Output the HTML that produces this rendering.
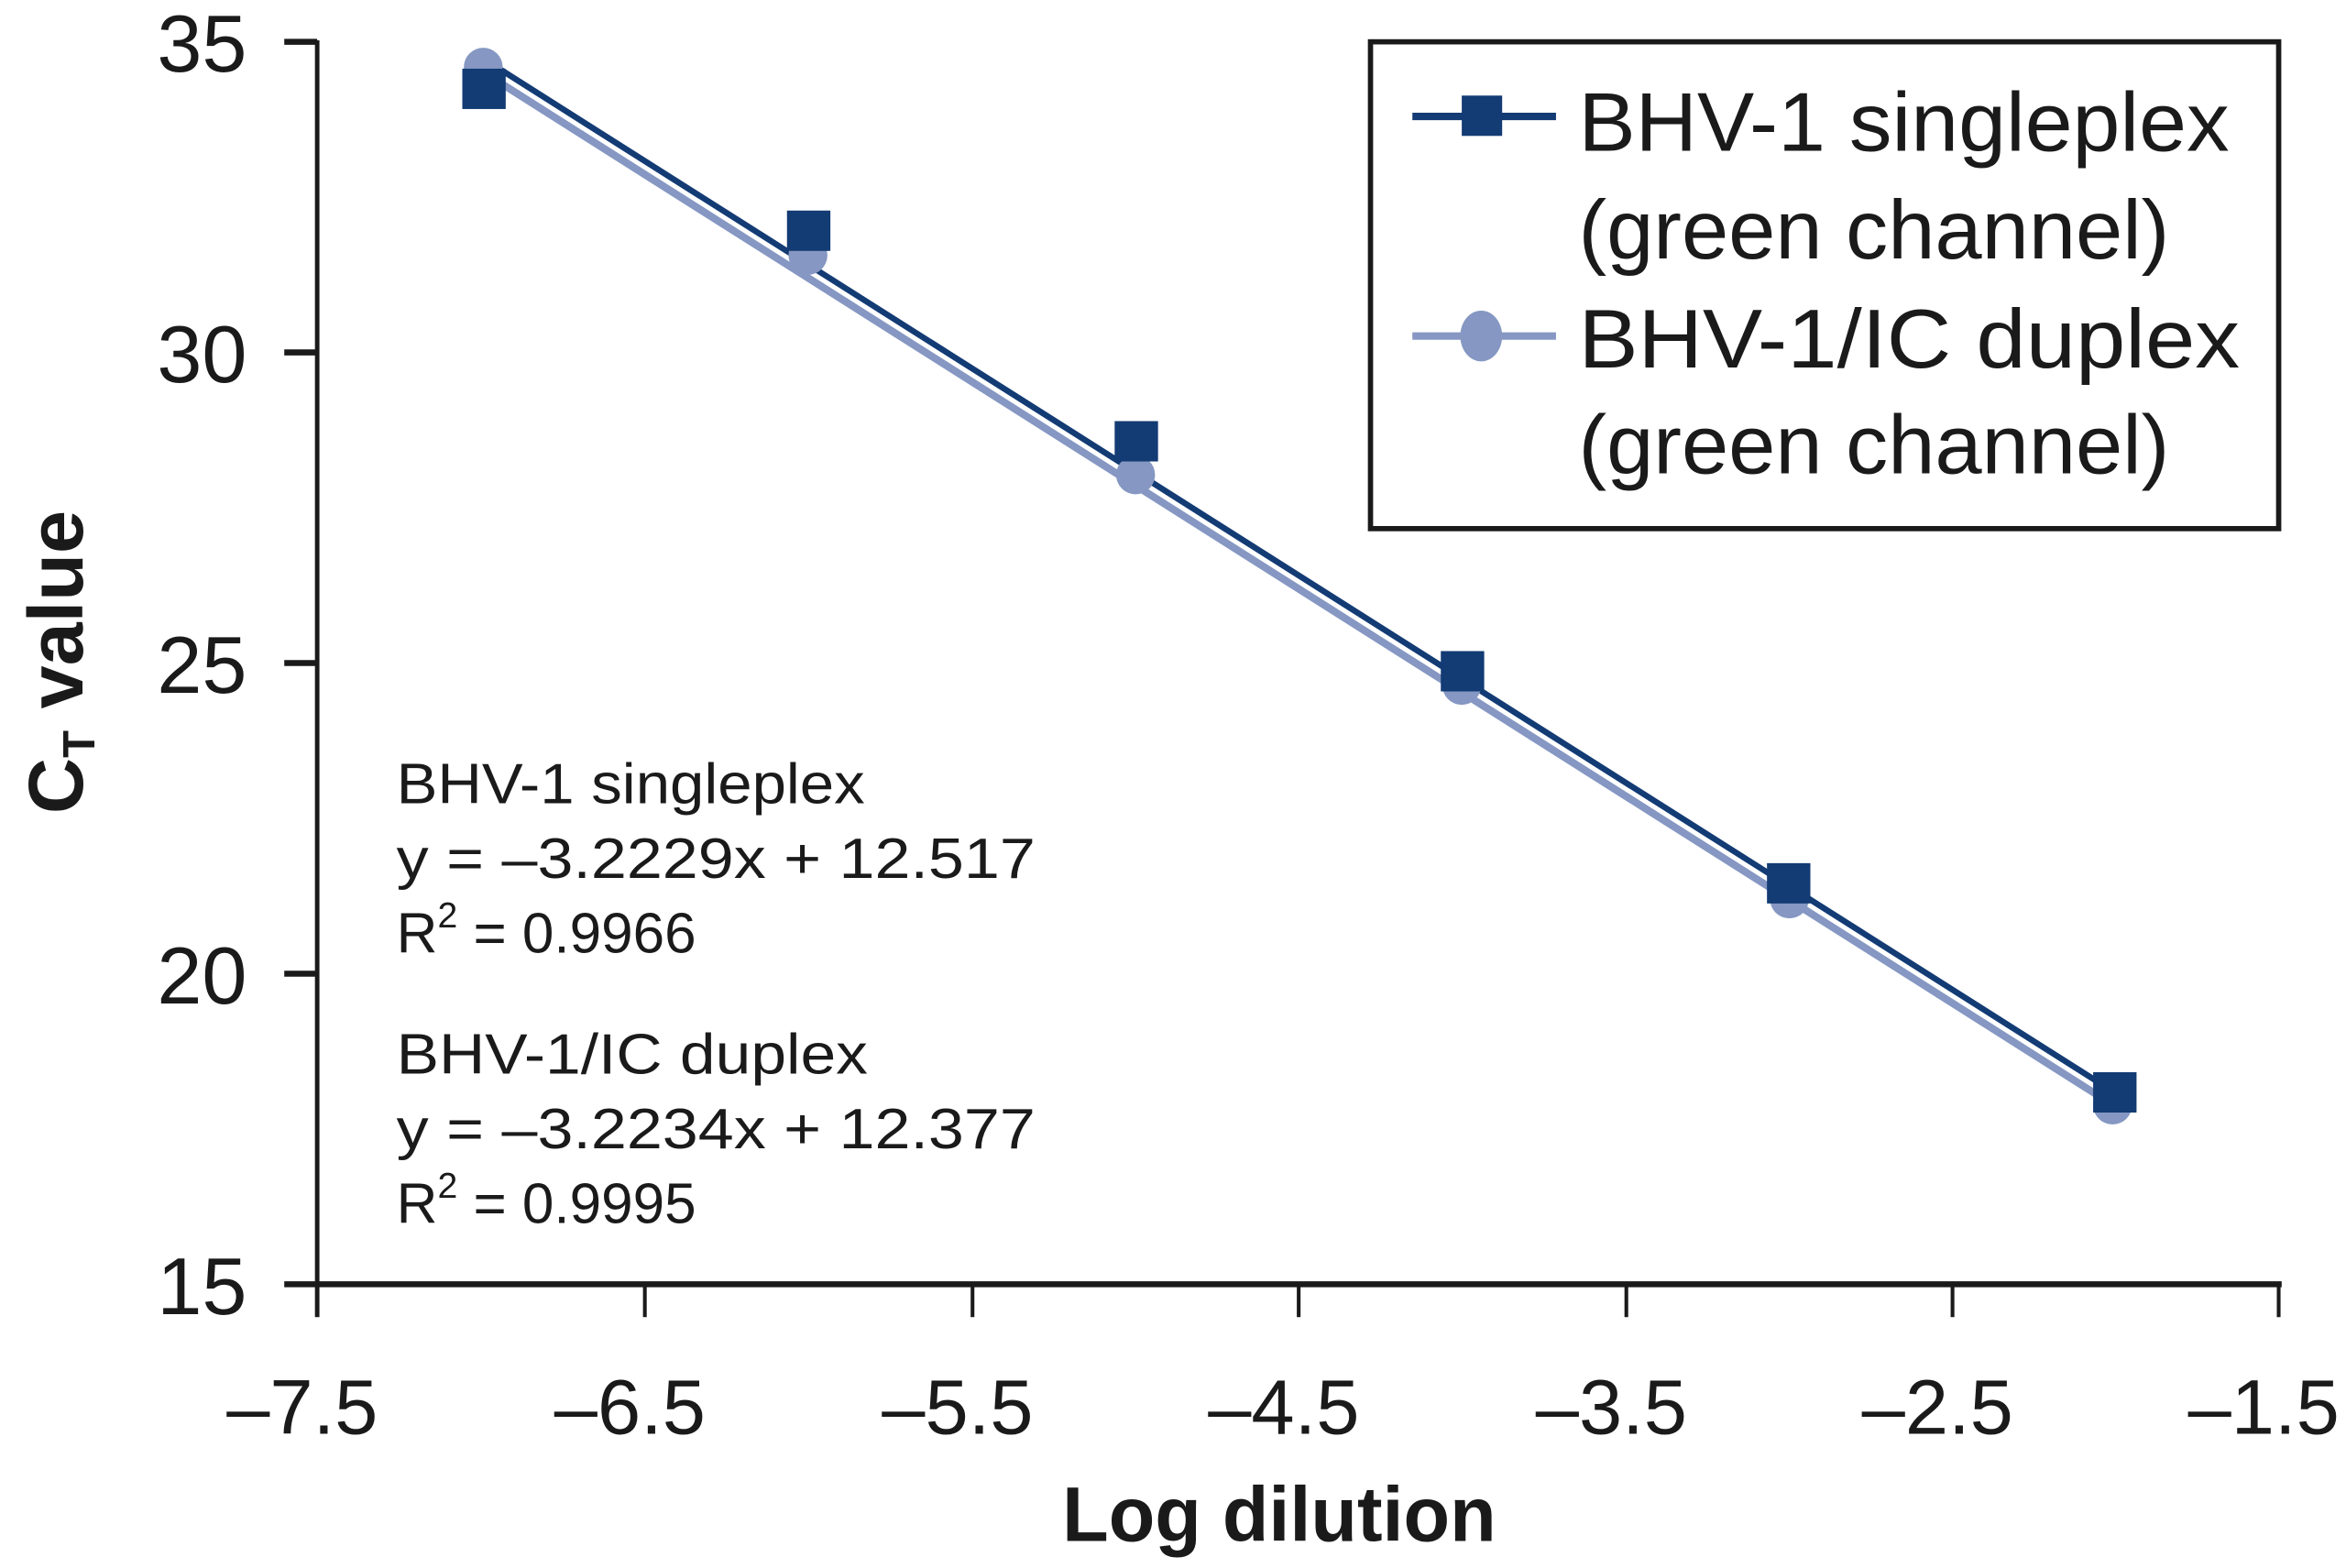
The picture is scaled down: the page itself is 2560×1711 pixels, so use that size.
<!DOCTYPE html>
<html><head><meta charset="utf-8"><style>html,body{margin:0;padding:0;background:#fff}svg{display:block}</style></head>
<body>
<svg width="2560" height="1711" viewBox="0 0 1568 1050" preserveAspectRatio="none" xmlns="http://www.w3.org/2000/svg" font-family="'Liberation Sans', sans-serif">
<rect width="1568" height="1050" fill="#fff"/>
<line x1="212" y1="27" x2="212" y2="882" stroke="#1a1a1a" stroke-width="3"/>
<line x1="190" y1="860" x2="1525" y2="860" stroke="#1a1a1a" stroke-width="4"/>
<g stroke="#1a1a1a" stroke-width="4">
<line x1="190" y1="28" x2="212" y2="28"/>
<line x1="190" y1="236" x2="212" y2="236"/>
<line x1="190" y1="444" x2="212" y2="444"/>
<line x1="190" y1="652" x2="212" y2="652"/>
</g>
<g stroke="#1a1a1a" stroke-width="2.5">
<line x1="431" y1="860" x2="431" y2="882"/>
<line x1="650" y1="860" x2="650" y2="882"/>
<line x1="868" y1="860" x2="868" y2="882"/>
<line x1="1087" y1="860" x2="1087" y2="882"/>
<line x1="1305" y1="860" x2="1305" y2="882"/>
<line x1="1523" y1="860" x2="1523" y2="882"/>
</g>
<g font-size="54" fill="#1a1a1a" text-anchor="end">
<text x="165" y="48">35</text>
<text x="165" y="256">30</text>
<text x="165" y="464">25</text>
<text x="165" y="672">20</text>
<text x="165" y="880">15</text>
</g>
<g font-size="52" fill="#1a1a1a" text-anchor="middle">
<text x="202" y="960">–7.5</text>
<text x="421" y="960">–6.5</text>
<text x="640" y="960">–5.5</text>
<text x="858" y="960">–4.5</text>
<text x="1077" y="960">–3.5</text>
<text x="1295" y="960">–2.5</text>
<text x="1513" y="960">–1.5</text>
</g>
<text x="855" y="1032" font-size="52" font-weight="bold" text-anchor="middle" fill="#1a1a1a" textLength="290" lengthAdjust="spacingAndGlyphs">Log dilution</text>
<g transform="translate(55,445) rotate(-90)" fill="#1a1a1a" font-weight="bold">
<text x="-100" y="0" font-size="52">C<tspan font-size="30" dy="8">T</tspan><tspan dy="-8"> value</tspan></text>
</g>
<line x1="321" y1="47" x2="1414" y2="741" stroke="#8597c2" stroke-width="5"/>
<line x1="321" y1="38" x2="1414" y2="732" stroke="#133b74" stroke-width="4"/>
<g fill="#8597c2">
<circle cx="323" cy="45" r="13"/>
<circle cx="540" cy="171" r="13"/>
<circle cx="759" cy="318" r="13"/>
<circle cx="977" cy="459" r="13"/>
<circle cx="1196" cy="602" r="13"/>
<circle cx="1412" cy="740" r="13"/>
</g>
<g fill="#133b74">
<rect x="309" y="46" width="29" height="27"/>
<rect x="526" y="141" width="29" height="27"/>
<rect x="745" y="282" width="29" height="27"/>
<rect x="963" y="436" width="29" height="27"/>
<rect x="1181" y="578" width="29" height="27"/>
<rect x="1399" y="718" width="29" height="27"/>
</g>
<rect x="916" y="28" width="607" height="326" fill="none" stroke="#1a1a1a" stroke-width="3.5"/>
<line x1="944" y1="78" x2="1040" y2="78" stroke="#133b74" stroke-width="5"/>
<rect x="977" y="64" width="27" height="27" fill="#133b74"/>
<line x1="944" y1="225" x2="1040" y2="225" stroke="#8597c2" stroke-width="5"/>
<ellipse cx="990" cy="225" rx="14" ry="17" fill="#8597c2"/>
<g font-size="56" fill="#1a1a1a" lengthAdjust="spacingAndGlyphs">
<text x="1055" y="101" textLength="435" lengthAdjust="spacingAndGlyphs">BHV-1 singleplex</text>
<text x="1055" y="173" textLength="395" lengthAdjust="spacingAndGlyphs">(green channel)</text>
<text x="1055" y="246" textLength="442" lengthAdjust="spacingAndGlyphs">BHV-1/IC duplex</text>
<text x="1055" y="317" textLength="395" lengthAdjust="spacingAndGlyphs">(green channel)</text>
</g>
<g font-size="38" fill="#1a1a1a">
<text x="265" y="538" textLength="313" lengthAdjust="spacingAndGlyphs">BHV-1 singleplex</text>
<text x="265" y="588" textLength="427" lengthAdjust="spacingAndGlyphs">y = –3.2229x + 12.517</text>
<text x="265" y="638">R<tspan font-size="24" dy="-17">2</tspan><tspan dy="17"> = 0.9966</tspan></text>
<text x="265" y="719" textLength="315" lengthAdjust="spacingAndGlyphs">BHV-1/IC duplex</text>
<text x="265" y="769" textLength="427" lengthAdjust="spacingAndGlyphs">y = –3.2234x + 12.377</text>
<text x="265" y="819">R<tspan font-size="24" dy="-17">2</tspan><tspan dy="17"> = 0.9995</tspan></text>
</g>
</svg>
</body></html>
